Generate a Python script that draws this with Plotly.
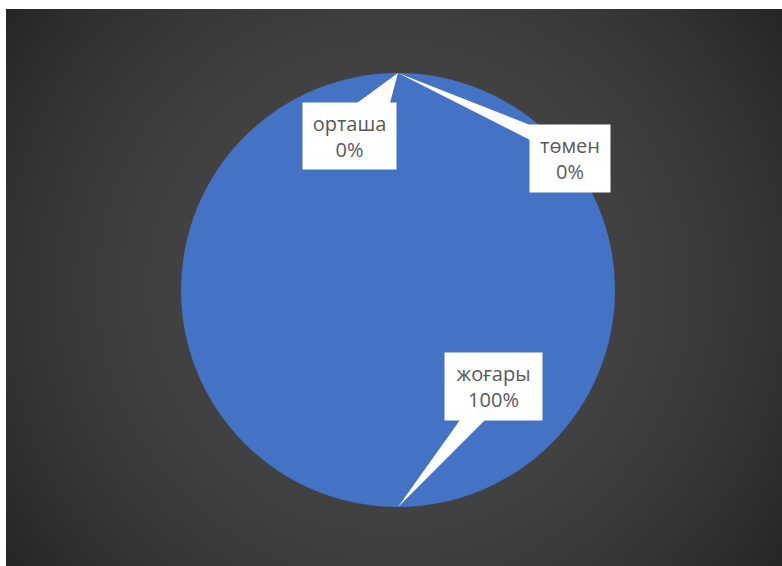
import base64
import struct
import zlib
import math
import numpy as np
import plotly.graph_objects as go

# ---- data ----
categories = ["төмен", "орташа", "жоғары"]
values = [0, 0, 100]

# ---- style ----
W, H = 782, 566
PIE_COLOR = "#4472C4"
TEXT_COLOR = "#595959"
FONT = "Open Sans"


def png_uri(arr):
    h, w = arr.shape[:2]
    raw = b"".join(b"\x00" + arr[i].tobytes() for i in range(h))

    def chunk(t, d):
        return struct.pack(">I", len(d)) + t + d + struct.pack(">I", zlib.crc32(t + d) & 0xFFFFFFFF)

    png = (b"\x89PNG\r\n\x1a\n" + chunk(b"IHDR", struct.pack(">IIBBBBB", w, h, 8, 2, 0, 0, 0))
           + chunk(b"IDAT", zlib.compress(raw, 9)) + chunk(b"IEND", b""))
    return "data:image/png;base64," + base64.b64encode(png).decode()


# background radial gradient
bx0, by0 = 6, 9
bw, bh = W - bx0, H - by0
gw, gh = 194, 140
yy, xx = np.mgrid[0:gh, 0:gw]
px = (xx + 0.5) / gw * bw
py = (yy + 0.5) / gh * bh
d = np.hypot(px - bw / 2, py - bh / 2) / math.hypot(bw / 2, bh / 2)
lum = 72 - 34 * np.clip(d, 0, 1) ** 2.2
img = np.repeat(lum[:, :, None], 3, axis=2).astype(np.uint8)

# pie geometry (pixels)
cx, cy, r = 398, 290, 217
dom_x = [(cx - r) / W, (cx + r) / W]
dom_y = [1 - (cy + r) / H, 1 - (cy - r) / H]

fig = go.Figure(go.Pie(
    labels=categories, values=values, sort=False, direction="clockwise", rotation=0,
    marker=dict(colors=[PIE_COLOR] * 3, line=dict(width=0)),
    textinfo="none", hoverinfo="skip", domain=dict(x=dom_x, y=dom_y),
))

fig.add_layout_image(dict(
    source=png_uri(img), xref="paper", yref="paper",
    x=bx0 / W, y=1 - by0 / H, sizex=bw / W, sizey=bh / H,
    xanchor="left", yanchor="top", sizing="stretch", layer="below",
))

total = sum(values)
cum = 0
angles = {}
for c, v in zip(categories, values):
    angles[c] = (cum + v / 2) / total * 2 * math.pi
    cum += v

# label boxes: (center x, center y, w, h) and pointer base points in px
boxes = {
    "орташа": ((349.5, 136, 93, 66), [(357, 103), (390, 103)]),
    "төмен": ((570, 158.5, 80, 67), [(530, 125), (530, 140)]),
    "жоғары": ((493.5, 386.5, 97, 67), [(460, 420), (485, 420)]),
}


def P(x, y):
    return f"{x / W:.5f},{1 - y / H:.5f}"


shapes = []
annotations = []
for c, v in zip(categories, values):
    (bx, by, bwid, bht), base = boxes[c]
    a = angles[c]
    tx = cx + r * math.sin(a)
    ty = cy - r * math.cos(a)
    shapes.append(dict(type="path", xref="paper", yref="paper",
                       path=f"M {P(tx, ty)} L {P(*base[0])} L {P(*base[1])} Z",
                       fillcolor="white", line=dict(width=0)))
    annotations.append(dict(
        x=bx / W, y=1 - by / H, xref="paper", yref="paper", xanchor="center", yanchor="middle",
        text=f"{c}<br>{v / total:.0%}", showarrow=False, bgcolor="white", borderpad=0,
        width=bwid, height=bht, align="center", valign="middle",
        font=dict(family=FONT, size=20, color=TEXT_COLOR),
    ))

fig.update_layout(
    width=W, height=H, margin=dict(l=0, r=0, t=0, b=0),
    paper_bgcolor="white", plot_bgcolor="white", showlegend=False,
    shapes=shapes, annotations=annotations,
)

fig.write_html("out.html", config={"displayModeBar": False},
               post_script="document.body.style.margin='0';")
